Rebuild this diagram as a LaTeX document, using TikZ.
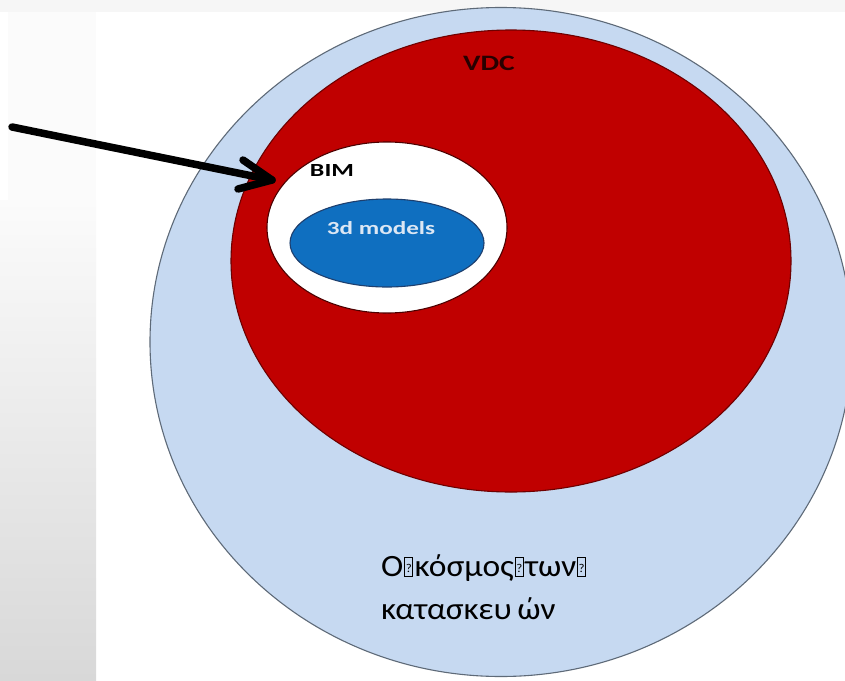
\documentclass[tikz,border=0pt]{standalone}
\usepackage{fontspec}
\setmainfont{Carlito}
\usetikzlibrary{shapes.geometric}

\definecolor{worldblue}{HTML}{C6D9F1}
\definecolor{worldline}{HTML}{5E6A78}
\definecolor{vdcred}{HTML}{C00000}
\definecolor{vdcline}{HTML}{6E0000}
\definecolor{modelblue}{HTML}{0F6FC0}
\definecolor{modelline}{HTML}{1E3F6E}
\definecolor{modeltext}{HTML}{DCE7F4}
\definecolor{paneltop}{HTML}{FBFBFB}
\definecolor{panelbottom}{HTML}{D8D8D8}
\definecolor{topstrip}{HTML}{F6F6F6}

% placeholder glyph for characters the font could not show
\newcommand\missingglyph{\kern1pt\setlength{\fboxsep}{0pt}\setlength{\fboxrule}{0.7pt}%
  \framebox[8pt][c]{\rule{0pt}{18pt}\raisebox{4pt}{\fontsize{12}{12}\selectfont ?}}\kern1.5pt}

\tikzset{
  zone/.style={ellipse, inner sep=0pt, line width=1.1pt},
  boldlabel/.style={inner sep=0pt, xscale=1.4},
  greektext/.style={inner sep=0pt, anchor=base west, xscale=1.08, font=\fontsize{31}{31}\selectfont},
  pointer/.style={line width=7.5pt, line cap=round, line join=round},
}

\begin{document}
\begin{tikzpicture}[x=1pt, y=-1pt]
  \useasboundingbox (0,0) rectangle (845,680);
  \fill[white] (0,0) rectangle (845,680);

  % side panel and top strip
  \fill[topstrip] (0,0) rectangle (845,12);
  \fill[paneltop] (8,12) rectangle (96,200);
  \shade[top color=paneltop, bottom color=panelbottom] (0,200) rectangle (96,680);

  % nested zones
  \node[zone, draw=worldline, fill=worldblue, minimum width=702pt, minimum height=669pt] (world) at (501,342) {};
  \node[zone, draw=vdcline, fill=vdcred, minimum width=560pt, minimum height=462pt] (vdc) at (511,261) {};
  \node[zone, draw=vdcline!70!black, fill=white, minimum width=240pt, minimum height=171pt] (bim) at (387,227.5) {};
  \node[zone, draw=modelline, fill=modelblue, minimum width=194pt, minimum height=88pt] (models) at (387,243) {};

  % labels
  \node[boldlabel, xscale=0.96, text=black!80!vdcred, font=\bfseries\fontsize{22}{22}\selectfont] (vdclabel) at (489,63) {VDC};
  \node[boldlabel, text=black, font=\bfseries\fontsize{18.5}{18.5}\selectfont] (bimlabel) at (332,170) {BIM};
  \node[boldlabel, xscale=0.97, text=modeltext, font=\bfseries\fontsize{18.5}{18.5}\selectfont] (modelslabel) at (381,228) {3d models};

  \node[greektext] (greekone) at (381,576)
    {Ο\missingglyph κόσμος\missingglyph των\missingglyph};
  \node[greektext] (greektwo) at (381,619)
    {κατασκευ\,ών};

  % pointer into the BIM zone
  \coordinate (src) at (12,127);
  \coordinate (tip) at (272,180);
  \coordinate (barbup) at (243,160);
  \coordinate (barbdown) at (238,189);
  \draw[pointer] (src) -- (tip);
  \draw[pointer] (barbup) -- (tip) -- (barbdown);
\end{tikzpicture}
\end{document}
